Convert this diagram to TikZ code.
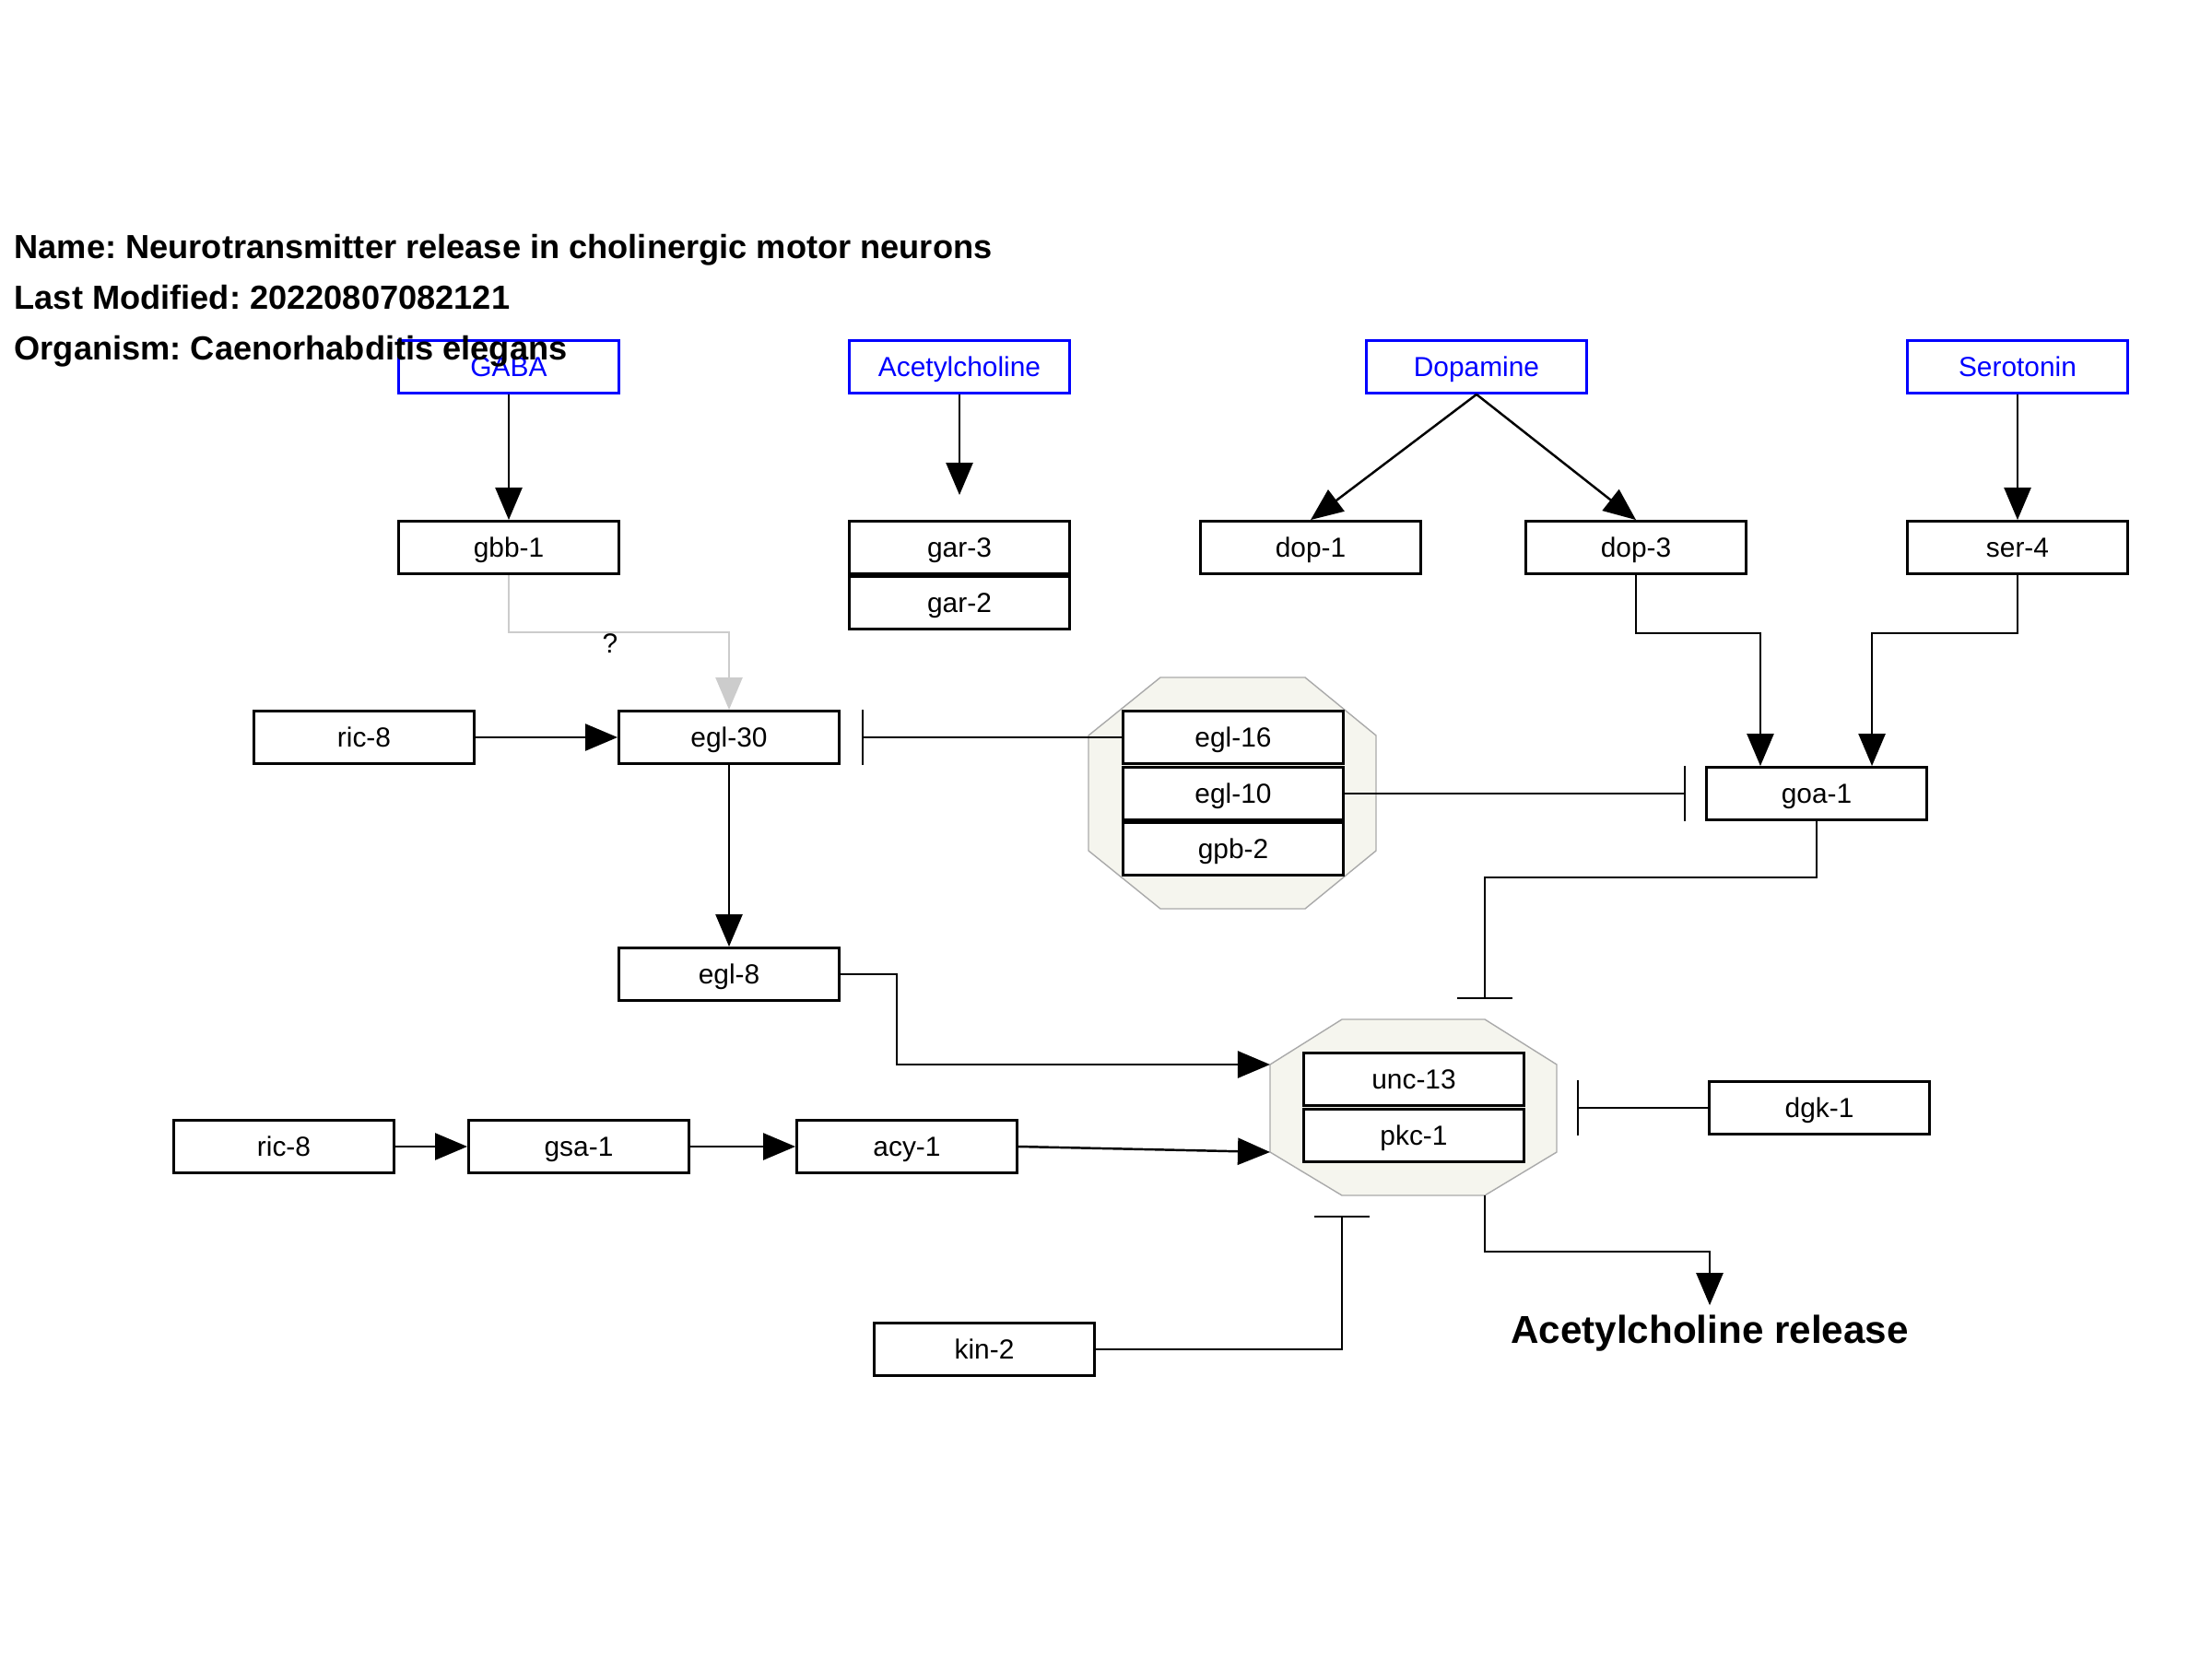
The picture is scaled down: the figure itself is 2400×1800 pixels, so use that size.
\documentclass[tikz,border=0pt]{standalone}
\usepackage{fontspec}
\setmainfont{Liberation Sans}
\usetikzlibrary{arrows.meta}
\definecolor{cplxfill}{RGB}{245,245,238}
\definecolor{cplxline}{RGB}{170,170,170}
\definecolor{qgrey}{RGB}{204,204,204}
\frenchspacing
\tikzset{
  gene/.style={draw, line width=0.8pt, minimum width=2.39cm, minimum height=0.57cm,
    inner sep=0pt, text height=7pt, text depth=0.9pt, font=\fontsize{8.5}{10}\selectfont},
  metab/.style={gene, draw=blue, text=blue},
  act/.style={-{Triangle[length=3.5mm,width=2.9mm]}, line width=0.7pt},
  inhib/.style={-{Bar[width=6mm]}, line width=0.7pt},
  cplx/.style={fill=cplxfill, draw=cplxline, line width=0.4pt},
  title/.style={anchor=base west, inner sep=0pt, font=\fontsize{10.3}{12}\selectfont\bfseries}
}
\begin{document}
\begin{tikzpicture}[x=0.01cm, y=-0.01cm]
\useasboundingbox (0,0) rectangle (2400,1800);
% complexes
\draw[cplx] (1259,735) -- (1416,735) -- (1493,798) -- (1493,923) -- (1416,986)
  -- (1259,986) -- (1181,923) -- (1181,798) -- cycle;
\draw[cplx] (1456,1106) coordinate (c2tl) -- (1611,1106) coordinate (c2tr)
  -- (1689,1155) -- (1689,1250) -- (1611,1297) coordinate (c2br)
  -- (1456,1297) coordinate (c2bl) -- (1378,1250) coordinate (c2ls)
  -- (1378,1155) coordinate (c2ln) -- cycle;
\coordinate (c2r) at (1689,1202);
% ligands
\node[metab] (gaba) at (552,398) {GABA};
\node[metab] (ach) at (1041,398) {Acetylcholine};
\node[metab] (dopa) at (1602,398) {Dopamine};
\node[metab] (sero) at (2189,398) {Serotonin};
% receptors
\node[gene] (gbb1) at (552,594) {gbb-1};
\node[gene] (gar3) at (1041,594) {gar-3};
\node[gene] (gar2) at (1041,654) {gar-2};
\node[gene] (dop1) at (1422,594) {dop-1};
\node[gene] (dop3) at (1775,594) {dop-3};
\node[gene] (ser4) at (2189,594) {ser-4};
% G proteins
\node[gene] (ric8a) at (395,800) {ric-8};
\node[gene] (egl30) at (791,800) {egl-30};
\node[gene, fill=white] (egl16) at (1338,800) {egl-16};
\node[gene, fill=white] (egl10) at (1338,861) {egl-10};
\node[gene, fill=white] (gpb2) at (1338,921) {gpb-2};
\node[gene] (goa1) at (1971,861) {goa-1};
\node[gene] (egl8) at (791,1057) {egl-8};
\node[gene, fill=white] (unc13) at (1534,1171) {unc-13};
\node[gene, fill=white] (pkc1) at (1534,1232) {pkc-1};
\node[gene] (dgk1) at (1974,1202) {dgk-1};
\node[gene] (ric8b) at (308,1244) {ric-8};
\node[gene] (gsa1) at (628,1244) {gsa-1};
\node[gene] (acy1) at (984,1244) {acy-1};
\node[gene] (kin2) at (1068,1464) {kin-2};
\node[anchor=base, inner sep=1pt, font=\fontsize{12}{14}\selectfont\bfseries] (release) at (1855,1457) {Acetylcholine release};
% edges
\draw[act] (gaba) -- (gbb1);
\draw[act, shorten >=0.27cm] (ach) -- (gar3);
\draw[act] (dopa.south) -- (dop1.north);
\draw[act] (dopa.south) -- (dop3.north);
\draw[act] (sero) -- (ser4);
\draw[act, qgrey] (gbb1.south) -- ++(0,62) -| node[pos=0.23, below, inner sep=0pt, text=black, font=\fontsize{8.5}{10}\selectfont] {?} (egl30.north);
\draw[act] (dop3.south) -- ++(0,63) -| ([xshift=-0.61cm]goa1.north);
\draw[act] (ser4.south) -- ++(0,63) -| ([xshift=0.6cm]goa1.north);
\draw[act] (ric8a) -- (egl30);
\draw[inhib, shorten >=0.23cm] (egl16) -- (egl30);
\draw[inhib, shorten >=0.21cm] (egl10) -- (goa1);
\draw[act] (egl30) -- (egl8);
\draw[inhib, shorten >=0.22cm] (goa1.south) -- ++(0,61) -| (c2tr);
\draw[act] (egl8.east) -- ++(61,0) |- (c2ln);
\draw[act] (ric8b) -- (gsa1);
\draw[act] (gsa1) -- (acy1);
\draw[act] (acy1.east) -- (c2ls);
\draw[inhib, shorten >=0.22cm] (dgk1.west) -- (c2r);
\draw[inhib, shorten >=0.22cm] (kin2.east) -| (c2bl);
\draw[act, shorten >=0.06cm] (c2br) -- ++(0,61) -| (release.north);
% info
\node[title] (name) at (15,281) {Name: Neurotransmitter release in cholinergic motor neurons};
\node[title] (modified) at (15,335) {Last Modified: 20220807082121};
\node[title] (organism) at (15,390) {Organism: Caenorhabditis elegans};
\end{tikzpicture}
\end{document}
